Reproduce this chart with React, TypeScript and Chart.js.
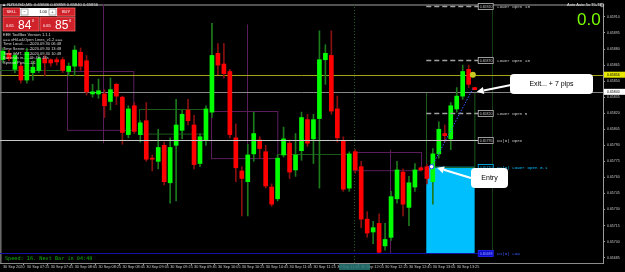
import React, { useEffect, useRef } from "react";
import { Chart, registerables } from "chart.js";

Chart.register(...registerables);

// ---- Candle data (NZDUSD, M5) ----
const opens = [
  0.6587, 0.65876, 0.65861, 0.65864, 0.65851, 0.65858, 0.6586, 0.65871, 0.6587, 0.6587,
  0.6587, 0.65859, 0.65864, 0.65877, 0.65869, 0.65838, 0.65838, 0.65838, 0.65831, 0.65847,
  0.65835, 0.658, 0.65827, 0.658, 0.65813, 0.65778, 0.65775, 0.6579, 0.65755, 0.6579,
  0.65804, 0.65823, 0.65809, 0.65773, 0.65795, 0.65821, 0.65876, 0.65866, 0.65859, 0.65797,
  0.65766, 0.65756, 0.65782, 0.65795, 0.65784, 0.65751, 0.6574, 0.65781, 0.65792, 0.65767,
  0.65785, 0.65814, 0.65796, 0.65815, 0.6587, 0.65874, 0.65824, 0.65794, 0.6575, 0.65784,
  0.6577, 0.65721, 0.65709, 0.65717, 0.65696, 0.65704, 0.6574, 0.65765, 0.65732, 0.65751,
  0.65769, 0.6577, 0.65756, 0.65782, 0.65801, 0.65796, 0.65824, 0.65836, 0.65861, 0.65844,
];
const closes = [
  0.65878, 0.65871, 0.65874, 0.65851, 0.65877, 0.65863, 0.65871, 0.65867, 0.65867, 0.65868,
  0.6586, 0.65864, 0.65879, 0.65864, 0.6584, 0.6584, 0.65841, 0.65827, 0.65842, 0.65836,
  0.65802, 0.65824, 0.65803, 0.65811, 0.65777, 0.65777, 0.65788, 0.65756, 0.65788, 0.65809,
  0.65819, 0.65813, 0.65772, 0.65798, 0.65824, 0.65874, 0.65865, 0.65857, 0.658, 0.65769,
  0.65759, 0.65781, 0.65801, 0.65787, 0.65752, 0.65735, 0.65778, 0.65796, 0.65765, 0.65781,
  0.65816, 0.65792, 0.65814, 0.6587, 0.65876, 0.65822, 0.65797, 0.65749, 0.65782, 0.65767,
  0.65721, 0.65708, 0.65713, 0.6569, 0.65702, 0.65742, 0.65767, 0.65735, 0.65755, 0.65767,
  0.65767, 0.65759, 0.65782, 0.65805, 0.65799, 0.65827, 0.65836, 0.65859, 0.65847, 0.65842,
];
const highs = [
  0.65881, 0.65879, 0.65876, 0.65867, 0.65881, 0.65869, 0.65874, 0.65874, 0.65871, 0.65872,
  0.65872, 0.65867, 0.65883, 0.65881, 0.65874, 0.65847, 0.65852, 0.65842, 0.65853, 0.65848,
  0.65836, 0.65827, 0.6583, 0.65813, 0.6583, 0.65781, 0.65805, 0.65793, 0.65797, 0.65833,
  0.65823, 0.65833, 0.65818, 0.65801, 0.65827, 0.65904, 0.65885, 0.65885, 0.65861, 0.6581,
  0.6577, 0.65791, 0.65821, 0.65798, 0.6579, 0.65754, 0.65781, 0.65807, 0.65795, 0.65801,
  0.65821, 0.65819, 0.65819, 0.65897, 0.65884, 0.65897, 0.65836, 0.65798, 0.65784, 0.65786,
  0.65775, 0.65728, 0.65719, 0.65726, 0.65717, 0.65747, 0.65775, 0.65768, 0.65761, 0.65773,
  0.6577, 0.65772, 0.65787, 0.65812, 0.65809, 0.6583, 0.65844, 0.65865, 0.65865, 0.65844,
];
const lows = [
  0.65867, 0.65869, 0.65858, 0.65848, 0.65848, 0.65851, 0.65858, 0.65855, 0.65864, 0.65865,
  0.65858, 0.65855, 0.65855, 0.6586, 0.65837, 0.65835, 0.65834, 0.65816, 0.65823, 0.65828,
  0.65791, 0.65797, 0.65801, 0.65793, 0.65775, 0.65766, 0.65768, 0.65753, 0.65736, 0.65738,
  0.65796, 0.65809, 0.65768, 0.6577, 0.6579, 0.65816, 0.65856, 0.65853, 0.65797, 0.65756,
  0.65724, 0.65724, 0.65775, 0.65778, 0.6575, 0.65733, 0.65738, 0.65779, 0.65759, 0.65761,
  0.65776, 0.65789, 0.65773, 0.6575, 0.65847, 0.65819, 0.65793, 0.65747, 0.65747, 0.65764,
  0.65713, 0.65704, 0.65698, 0.65689, 0.65692, 0.65701, 0.65736, 0.65724, 0.65715, 0.65747,
  0.65766, 0.65754, 0.65735, 0.65778, 0.65793, 0.65786, 0.65821, 0.65833, 0.65844, 0.65842,
];

// time axis labels (one every 4 bars)
const timeTickLabels = [
  "30 Sep 2020", "30 Sep 07:25", "30 Sep 07:45", "30 Sep 08:05", "30 Sep 08:25",
  "30 Sep 08:45", "30 Sep 09:05", "30 Sep 09:25", "30 Sep 09:45", "30 Sep 10:05",
  "30 Sep 10:25", "30 Sep 10:45", "30 Sep 11:05", "30 Sep 11:25", "30 Sep 11:45",
  "30 Sep 12:05", "30 Sep 12:25", "30 Sep 12:45", "30 Sep 13:05", "30 Sep 13:25",
];
const totalSlots = 101;
const priceMin = 0.6568;
const priceMax = 0.65922;
const priceStep = 0.00015;

// levels from the "Open Lines" indicator
const levelNames = ["Lower Open 15", "Lower Open 10", "Lower Open 5", "D1(0) Open", "D1(0) Lower Open 0.1", "D1(0) Low"];
const levelPrices = [0.6592, 0.6587, 0.6582, 0.65795, 0.6577, 0.65689];
const askPrice = 0.65856;
const bidPrice = 0.6584;

// session boxes (bar index from/to, price high/low, centre-line bar and range)
const purpleFrom = [10.7, 34.8, 58.6];
const purpleTo = [21.8, 45.9, 70.0];
const purpleHigh = [0.65859, 0.65822, 0.65784];
const purpleLow = [0.65804, 0.65778, 0.65767];
const purpleMid = [16.75, 40.9, 64.8];
const purpleRangeHigh = [0.65922, 0.65903, 0.65786];
const purpleRangeLow = [0.65792, 0.65724, 0.65689];

// trade
const entryBar = 71.8;
const entryPrice = 0.6577;
const exitBar = 78.7;
const exitPrice = 0.65843;

const infoRows = [
  ["Time Local..........", "2020.09.30 06:48"],
  ["Time Server.........", "2020.09.30 13:48"],
  ["Time GMT............", "2020.09.30 10:48"],
  ["Bar ends in.........", "0h 4m 48s"],
  ["Spread Pips.........", "1.6"],
];

function roundRect(ctx: CanvasRenderingContext2D, x: number, y: number, w: number, h: number, r: number) {
  ctx.beginPath();
  ctx.moveTo(x + r, y);
  ctx.lineTo(x + w - r, y);
  ctx.quadraticCurveTo(x + w, y, x + w, y + r);
  ctx.lineTo(x + w, y + h - r);
  ctx.quadraticCurveTo(x + w, y + h, x + w - r, y + h);
  ctx.lineTo(x + r, y + h);
  ctx.quadraticCurveTo(x, y + h, x, y + h - r);
  ctx.lineTo(x, y + r);
  ctx.quadraticCurveTo(x, y, x + r, y);
  ctx.closePath();
}

function arrow(ctx: CanvasRenderingContext2D, x0: number, y0: number, x1: number, y1: number) {
  const a = Math.atan2(y1 - y0, x1 - x0);
  const hl = 7;
  const bx = x1 - hl * Math.cos(a);
  const by = y1 - hl * Math.sin(a);
  ctx.strokeStyle = "#ffffff";
  ctx.fillStyle = "#ffffff";
  ctx.lineWidth = 2;
  ctx.beginPath();
  ctx.moveTo(x0, y0);
  ctx.lineTo(bx, by);
  ctx.stroke();
  ctx.beginPath();
  ctx.moveTo(x1, y1);
  ctx.lineTo(bx + 3.5 * Math.sin(a), by - 3.5 * Math.cos(a));
  ctx.lineTo(bx - 3.5 * Math.sin(a), by + 3.5 * Math.cos(a));
  ctx.closePath();
  ctx.fill();
}

const overlay = {
  id: "mtOverlay",
  beforeDraw(chart: any) {
    const ctx = chart.ctx as CanvasRenderingContext2D;
    ctx.save();
    ctx.fillStyle = "#000";
    ctx.fillRect(0, 0, chart.width, chart.height);
    ctx.restore();
  },
  beforeDatasetsDraw(chart: any) {
    const ctx = chart.ctx as CanvasRenderingContext2D;
    const xs = chart.scales.x;
    const ys = chart.scales.y;
    const X = (i: number) => xs.getPixelForValue(i);
    const Y = (p: number) => ys.getPixelForValue(p);
    const area = chart.chartArea;
    ctx.save();
    // frame
    ctx.strokeStyle = "#6e6e6e";
    ctx.lineWidth = 1.5;
    ctx.beginPath();
    ctx.moveTo(area.left + 0.8, area.top);
    ctx.lineTo(area.left + 0.8, area.bottom);
    ctx.moveTo(area.left, area.top + 0.8);
    ctx.lineTo(area.right, area.top + 0.8);
    ctx.stroke();

    // cyan trade rectangle
    ctx.fillStyle = "#00bfff";
    ctx.fillRect(X(70.9), Y(levelPrices[4]), X(79) - X(70.9), Y(levelPrices[5]) - Y(levelPrices[4]));

    // purple session boxes
    ctx.strokeStyle = "#5a1d5a";
    ctx.lineWidth = 1;
    for (let i = 0; i < purpleFrom.length; i++) {
      ctx.strokeRect(Math.round(X(purpleFrom[i])) + 0.5, Math.round(Y(purpleHigh[i])) + 0.5,
        X(purpleTo[i]) - X(purpleFrom[i]), Y(purpleLow[i]) - Y(purpleHigh[i]));
      ctx.beginPath();
      ctx.moveTo(Math.round(X(purpleMid[i])) + 0.5, Y(purpleRangeHigh[i]));
      ctx.lineTo(Math.round(X(purpleMid[i])) + 0.5, Y(purpleRangeLow[i]));
      ctx.stroke();
    }
    // green boxes / lines
    ctx.strokeStyle = "#1a5a1a";
    ctx.strokeRect(Math.round(X(22.8)) + 0.5, Math.round(Y(0.65824)) + 0.5, X(33.8) - X(22.8), Y(0.65801) - Y(0.65824));
    ctx.strokeRect(Math.round(X(70.9)) + 0.5, Math.round(Y(bidPrice)) + 0.5, X(79) - X(70.9), Y(entryPrice) - Y(bidPrice));
    ctx.beginPath();
    ctx.moveTo(area.left, Math.round(Y(0.6586)) + 0.5);
    ctx.lineTo(X(9.9), Math.round(Y(0.6586)) + 0.5);
    ctx.moveTo(X(45.9), Math.round(Y(0.65782)) + 0.5);
    ctx.lineTo(X(57.8), Math.round(Y(0.65782)) + 0.5);
    ctx.stroke();

    // vertical separators
    ctx.strokeStyle = "#2c5e2c";
    ctx.setLineDash([1, 2]);
    ctx.beginPath();
    ctx.moveTo(Math.round(X(58.85)) + 0.5, area.top);
    ctx.lineTo(Math.round(X(58.85)) + 0.5, area.bottom);
    ctx.stroke();
    ctx.setLineDash([]);
    ctx.strokeStyle = "#173d17";
    ctx.beginPath();
    ctx.moveTo(Math.round(X(81.9)) + 0.5, area.top);
    ctx.lineTo(Math.round(X(81.9)) + 0.5, Y(levelPrices[5]));
    ctx.stroke();

    // ask / bid lines
    ctx.lineWidth = 1;
    ctx.strokeStyle = "#a5a515";
    ctx.beginPath();
    ctx.moveTo(area.left, Math.round(Y(askPrice)) + 0.5);
    ctx.lineTo(area.right, Math.round(Y(askPrice)) + 0.5);
    ctx.stroke();
    ctx.strokeStyle = "#878787";
    ctx.beginPath();
    ctx.moveTo(area.left, Math.round(Y(bidPrice)) + 0.5);
    ctx.lineTo(area.right, Math.round(Y(bidPrice)) + 0.5);
    ctx.stroke();
    ctx.restore();
  },
  afterDatasetsDraw(chart: any) {
    const ctx = chart.ctx as CanvasRenderingContext2D;
    const xs = chart.scales.x;
    const ys = chart.scales.y;
    const X = (i: number) => xs.getPixelForValue(i);
    const Y = (p: number) => ys.getPixelForValue(p);
    const area = chart.chartArea;
    ctx.save();
    const labelX = X(79.6);

    // level lines
    levelPrices.forEach((p, i) => {
      const y = Math.round(Y(p)) + 0.5;
      ctx.setLineDash([]);
      if (i < 3) {
        ctx.strokeStyle = "#a0a0a0";
        ctx.lineWidth = 1.5;
        ctx.setLineDash([5, 3]);
        ctx.beginPath();
        ctx.moveTo(X(70.9), y);
        ctx.lineTo(labelX, y);
        ctx.stroke();
      } else if (i === 3) {
        ctx.strokeStyle = "#c8c8c8";
        ctx.lineWidth = 1;
        ctx.beginPath();
        ctx.moveTo(area.left, y);
        ctx.lineTo(labelX, y);
        ctx.stroke();
      } else if (i === 5) {
        ctx.strokeStyle = "#1212a8";
        ctx.lineWidth = 1;
        ctx.beginPath();
        ctx.moveTo(area.left, y);
        ctx.lineTo(labelX, y);
        ctx.stroke();
      }
      ctx.setLineDash([]);
      // label box
      const boxBorder = i === 4 ? "#00bfff" : i === 5 ? "#2a2aff" : "#c0c0c0";
      const boxFill = i === 5 ? "#0a0acc" : "#000";
      const txtCol = i === 4 ? "#00bfff" : i === 5 ? "#3a5aff" : "#c8c8c8";
      ctx.fillStyle = boxFill;
      ctx.fillRect(labelX, y - 3, 15, 6);
      ctx.strokeStyle = boxBorder;
      ctx.lineWidth = 0.8;
      ctx.strokeRect(labelX, y - 3, 15, 6);
      ctx.fillStyle = i === 5 ? "#9fb0ff" : txtCol;
      ctx.font = "3.5px 'Liberation Sans'";
      ctx.textBaseline = "middle";
      ctx.textAlign = "left";
      ctx.fillText(p.toFixed(5), labelX + 1.5, y + 0.3);
      ctx.fillStyle = txtCol;
      ctx.font = "4.2px 'Liberation Mono'";
      ctx.fillText(levelNames[i], labelX + 19, y + 0.3);
    });

    // trade dotted line
    ctx.strokeStyle = "#3a5cff";
    ctx.lineWidth = 1;
    ctx.setLineDash([1.5, 1.5]);
    ctx.beginPath();
    ctx.moveTo(X(entryBar), Y(entryPrice));
    ctx.lineTo(X(exitBar), Y(exitPrice));
    ctx.stroke();
    ctx.setLineDash([]);

    // entry marker
    ctx.beginPath();
    ctx.arc(X(entryBar), Y(entryPrice), 2.2, 0, Math.PI * 2);
    ctx.fillStyle = "#ffffff";
    ctx.fill();
    ctx.strokeStyle = "#1f3fff";
    ctx.lineWidth = 1;
    ctx.stroke();
    // exit marker (ask dot)
    ctx.beginPath();
    ctx.arc(X(exitBar), Y(askPrice), 3, 0, Math.PI * 2);
    ctx.fillStyle = "#c8c820";
    ctx.fill();

    // callouts
    ctx.fillStyle = "#ffffff";
    roundRect(ctx, 510, 74, 83, 20, 4);
    ctx.fill();
    ctx.fillStyle = "#000";
    ctx.font = "7px 'Liberation Sans'";
    ctx.textAlign = "center";
    ctx.textBaseline = "middle";
    ctx.fillText("Exit... + 7 pips", 551.5, 84.5);
    arrow(ctx, 511, 85, X(79.35), Y(bidPrice));

    ctx.fillStyle = "#ffffff";
    roundRect(ctx, 471, 168, 37, 20, 4);
    ctx.fill();
    ctx.fillStyle = "#000";
    ctx.font = "7px 'Liberation Sans'";
    ctx.fillText("Entry", 489.5, 178.5);
    arrow(ctx, 471, 178, X(72.7), Y(0.65769));

    // price axis special labels
    ctx.textAlign = "left";
    ctx.font = "3.5px 'Liberation Sans'";
    ctx.fillStyle = "#e6e600";
    ctx.fillRect(area.right + 1, Y(askPrice) - 3, 21, 6);
    ctx.fillStyle = "#000";
    ctx.fillText(askPrice.toFixed(5), area.right + 4, Y(askPrice) + 0.3);
    ctx.fillStyle = "#ffffff";
    ctx.fillRect(area.right + 1, Y(bidPrice) - 3, 21, 6);
    ctx.fillStyle = "#000";
    ctx.fillText(bidPrice.toFixed(5), area.right + 4, Y(bidPrice) + 0.3);

    // title
    ctx.fillStyle = "#e0e0e0";
    ctx.font = "4.2px 'Liberation Sans'";
    ctx.fillText("\u25B2 NZDUSD,M5  0.65846 0.65858 0.65840 0.65856", 2, 4.5);

    // one-click trading panel
    ctx.fillStyle = "#d0222a";
    ctx.fillRect(3, 8, 17, 8);
    ctx.fillRect(57, 8, 18, 8);
    ctx.fillRect(3, 17, 36, 14);
    ctx.fillRect(40, 17, 35, 14);
    ctx.strokeStyle = "#ff7070";
    ctx.lineWidth = 0.7;
    ctx.strokeRect(3, 8, 17, 8);
    ctx.strokeRect(57, 8, 18, 8);
    ctx.strokeRect(3, 17, 36, 14);
    ctx.strokeRect(40, 17, 35, 14);
    ctx.fillStyle = "#ffffff";
    ctx.fillRect(20, 8, 37, 8);
    ctx.strokeStyle = "#888";
    ctx.strokeRect(21, 9, 7, 6);
    ctx.strokeRect(49, 9, 7, 6);
    ctx.fillStyle = "#000";
    ctx.font = "4px 'Liberation Sans'";
    ctx.textAlign = "center";
    ctx.fillText("\u2212", 24.5, 12.2);
    ctx.fillText("+", 52.5, 12.2);
    ctx.textAlign = "right";
    ctx.fillText("1.00", 47, 12.2);
    ctx.fillStyle = "#ffffff";
    ctx.textAlign = "center";
    ctx.fillText("SELL", 11.5, 12.2);
    ctx.fillText("BUY", 66, 12.2);
    ctx.textAlign = "left";
    ctx.font = "4px 'Liberation Sans'";
    ctx.fillText("0.65", 6, 26);
    ctx.fillText("0.65", 43, 26);
    ctx.font = "12px 'Liberation Sans'";
    ctx.textBaseline = "alphabetic";
    ctx.fillText("84", 18, 29);
    ctx.fillText("85", 55, 29);
    ctx.font = "4px 'Liberation Sans'";
    ctx.fillText("0", 32, 22);
    ctx.fillText("6", 69, 22);

    // info block
    ctx.fillStyle = "#d8d8d8";
    ctx.font = "4px 'Liberation Sans'";
    ctx.textBaseline = "middle";
    ctx.fillText("EEE ToolBox Version 1.1.1", 3, 35);
    ctx.fillText("=== xHiLo&Open Lines_v1.2 ===", 3, 39.5);
    infoRows.forEach((r, i) => {
      ctx.fillText(r[0], 3, 44 + i * 4.7);
      ctx.fillText(r[1], 30, 44 + i * 4.7);
    });

    // top right
    ctx.fillStyle = "#e0e0e0";
    ctx.font = "4px 'Liberation Sans'";
    ctx.fillText("Auto Auto 5s T5-T9", 567, 5);
    ctx.beginPath();
    ctx.arc(602, 5, 1.8, 0, Math.PI * 2);
    ctx.strokeStyle = "#e0e0e0";
    ctx.lineWidth = 0.6;
    ctx.stroke();
    ctx.fillStyle = "#7cfc00";
    ctx.font = "17px 'Liberation Sans'";
    ctx.textBaseline = "alphabetic";
    ctx.fillText("0.0", 577, 25);

    // status text
    ctx.fillStyle = "#10b010";
    ctx.font = "5.2px 'DejaVu Sans Mono'";
    ctx.textBaseline = "middle";
    ctx.fillText("Speed: 16. Next Bar in 04:48", 5, 259);
    ctx.restore();
  },
  afterDraw(chart: any) {
    const ctx = chart.ctx as CanvasRenderingContext2D;
    const xs = chart.scales.x;
    ctx.save();
    ctx.fillStyle = "rgba(40,120,120,0.85)";
    ctx.fillRect(xs.getPixelForValue(56.3), 264, 31, 6);
    ctx.restore();
  },
};

export default function App() {
  const ref = useRef<HTMLCanvasElement>(null);
  useEffect(() => {
    document.body.style.margin = "0";
    document.body.style.background = "#000";
    const n = opens.length;
    const slotLabels: string[] = [];
    for (let i = 0; i < totalSlots; i++) slotLabels.push(String(i));
    const up = opens.map((o, i) => closes[i] >= o);
    const chart = new Chart(ref.current as HTMLCanvasElement, {
      type: "bar",
      data: {
        labels: slotLabels,
        datasets: [
          {
            label: "wick",
            data: lows.map((l, i) => [l, highs[i]]) as any,
            backgroundColor: up.map((u) => (u ? "#1c7a1c" : "#8a1010")),
            barThickness: 1,
            grouped: false,
            order: 2,
          } as any,
          {
            label: "body",
            data: opens.map((o, i) => [o, closes[i]]) as any,
            backgroundColor: up.map((u) => (u ? "#00ff00" : "#ff0000")),
            barThickness: 4,
            minBarLength: 1,
            grouped: false,
            order: 1,
          } as any,
        ],
      },
      options: {
        animation: false,
        responsive: false,
        maintainAspectRatio: false,
        layout: { padding: 0 },
        plugins: { legend: { display: false }, tooltip: { enabled: false } },
        scales: {
          x: {
            type: "category",
            offset: true,
            grid: {
              display: true,
              drawOnChartArea: false,
              drawTicks: true,
              tickLength: 2,
              color: (c: any) => (c.index % 4 === 0 && c.index < n ? "#9a9a9a" : "rgba(0,0,0,0)"),
            },
            border: { display: true, color: "#8a8a8a", width: 1 },
            ticks: {
              autoSkip: false,
              maxRotation: 0,
              minRotation: 0,
              align: "start",
              padding: 0,
              color: "#c8c8c8",
              font: { family: "'Liberation Sans'", size: 3.8 },
              callback: (_v: any, i: number) => (i % 4 === 0 && i / 4 < timeTickLabels.length ? timeTickLabels[i / 4] : ""),
            },
            afterFit: (s: any) => {
              s.height = 9;
            },
          } as any,
          y: {
            type: "linear",
            position: "right",
            min: priceMin,
            max: priceMax,
            grid: {
              display: true,
              drawOnChartArea: false,
              drawTicks: true,
              tickLength: 2,
              color: "#9a9a9a",
            },
            border: { display: true, color: "#9a9a9a", width: 1 },
            ticks: {
              stepSize: priceStep,
              includeBounds: false,
              padding: 2,
              color: "#c8c8c8",
              font: { family: "'Liberation Sans'", size: 3.5 },
              callback: (v: any) => Number(v).toFixed(5),
            },
            afterFit: (s: any) => {
              s.width = 22;
            },
          } as any,
        },
      },
      plugins: [overlay],
    });
    return () => chart.destroy();
  }, []);
  return (
    <div style={{ position: "fixed", left: 0, top: 0, width: 625, height: 272, background: "#000" }}>
      <canvas ref={ref} width={625} height={272} style={{ display: "block", width: 625, height: 272 }} />
    </div>
  );
}
